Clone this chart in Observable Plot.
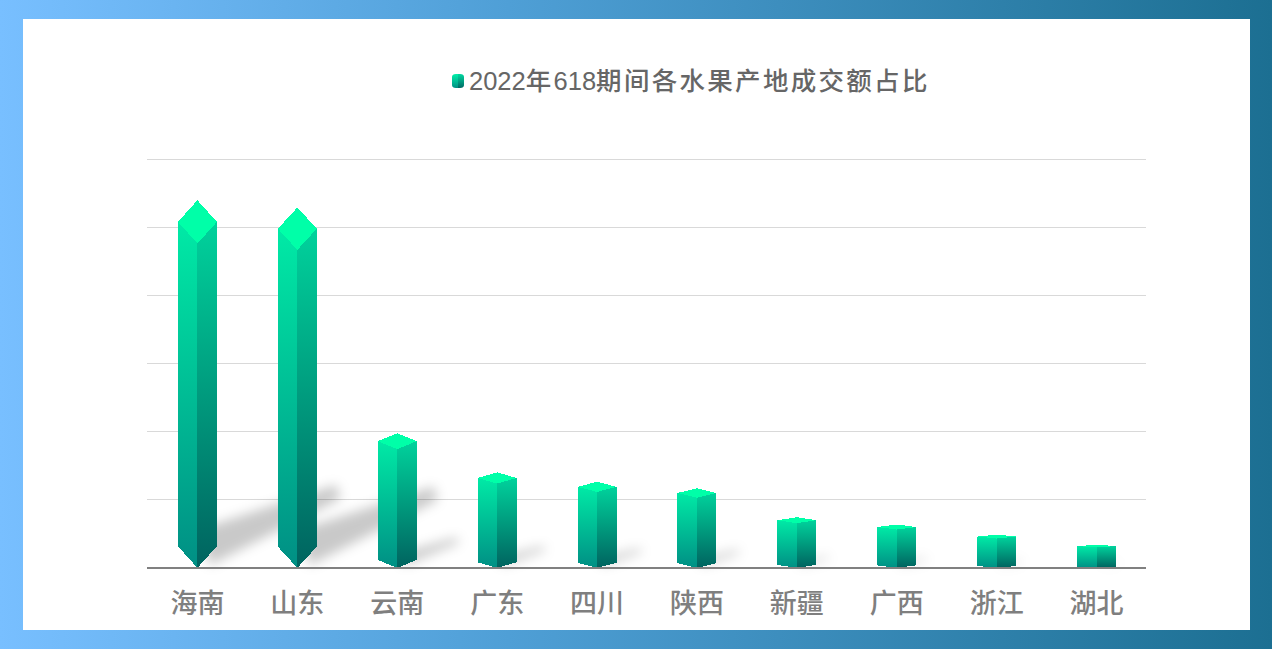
<!DOCTYPE html>
<html><head><meta charset="utf-8">
<script src="https://cdn.jsdelivr.net/npm/d3@7"></script>
<script src="https://cdn.jsdelivr.net/npm/@observablehq/plot@0.6"></script>
<style>
html,body{margin:0;padding:0;width:1272px;height:649px;overflow:hidden}
body{position:relative;background:linear-gradient(90deg,#78bfff 0%,#4f9fd6 40%,#1c6f92 100%)}
#panel{position:absolute;left:23px;top:19px;width:1227px;height:611px;background:#fff}
#chart{position:absolute;left:0;top:0}
#title{position:absolute;left:452px;top:62px;height:34px;line-height:34px;white-space:nowrap;color:#666;font-family:"Noto Sans CJK SC",sans-serif;font-size:25.5px}
#title i{font-style:normal;font-family:"Liberation Sans",sans-serif;font-size:25.5px}
#title b{font-weight:500;letter-spacing:2.3px}
#icon{position:absolute;left:0;top:12px;width:12px;height:14px;border-radius:4px/3px;background:linear-gradient(#00f0a8,#009084) left/50% 100% no-repeat,linear-gradient(#00d8a0,#006a64) right/50% 100% no-repeat}
#text{position:absolute;left:17px;top:0}
</style></head>
<body>
<div id="panel"></div>
<div id="chart"></div>
<div id="title"><span id="icon"></span><span id="text"><i>2022</i><b>年</b><i>618</i><b>期间各水果产地成交额占比</b></span></div>
<script>
const provinces = ["海南","山东","云南","广东","四川","陕西","新疆","广西","浙江","湖北"];
const shares = [25.4,24.9,9.3,6.6,5.95,5.5,3.5,3.0,2.3,1.6];
const gridTicks = [0,5,10,15,20,25,30];

const halfWidth = 0.195, capRatio = 0.0625;
function faces(kind){
  return shares.flatMap((v,i)=>{
    const c=v*capRatio;
    const pts = kind==="left"  ? [[i-halfWidth,v],[i,v-c],[i,0],[i-halfWidth,c]]
              : kind==="right" ? [[i+halfWidth,v],[i,v-c],[i,0],[i+halfWidth,c]]
              : kind==="cap"   ? [[i-halfWidth,v],[i,v+c],[i+halfWidth,v],[i,v-c]]
              : [[i,v*0.11],[i+0.05+v*0.003,0.2],[i+0.16+v*0.05,v*0.2],[i+0.12+v*0.05,v*0.24]];
    return pts.map(([x,y])=>({x,y,z:i}));
  });
}
function gradient(defs,id,a,b){
  const g=defs.append("linearGradient").attr("id",id).attr("x1",0).attr("y1",0).attr("x2",0).attr("y2",1);
  g.append("stop").attr("offset",0).attr("stop-color",a);
  g.append("stop").attr("offset",1).attr("stop-color",b);
}
const defsMark=()=>{
  const defs=d3.create("svg:defs");
  gradient(defs,"gLeft","#00eaa6","#008f84");
  gradient(defs,"gRight","#00d29c","#00635f");
  return defs.node();
};
const poly=(kind,fill,extra={})=>Plot.line(faces(kind),{x:"x",y:"y",z:"z",fill,stroke:"none",curve:"linear-closed",shapeRendering:"crispEdges",...extra});

const chart=Plot.plot({
  width:1272,height:649,
  marginLeft:147,marginRight:126,marginTop:158.7,marginBottom:81.6,
  style:{background:"transparent"},
  x:{domain:[-0.5,9.5],axis:null},
  y:{domain:[0,30],axis:null},
  marks:[
    defsMark,
    Plot.ruleY(gridTicks.slice(1),{stroke:"#d9d9d9",strokeWidth:1,shapeRendering:"crispEdges"}),
    poly("shadow","#000",{fillOpacity:0.21,imageFilter:"blur(6px)",shapeRendering:"auto"}),
    poly("left","url(#gLeft)"),
    poly("right","url(#gRight)"),
    poly("cap","#00ffa8"),
    Plot.ruleY([0],{stroke:"#808080",strokeWidth:2,shapeRendering:"crispEdges"}),
    Plot.axisX({ticks:d3.range(10),tickFormat:i=>provinces[i],tickSize:0,tickPadding:25.5,fontSize:27,fontWeight:500,label:null,color:"#7f7f7f",
      fontFamily:'"Noto Sans CJK SC",sans-serif'})
  ]
});
document.getElementById("chart").append(chart);
</script>
</body></html>
